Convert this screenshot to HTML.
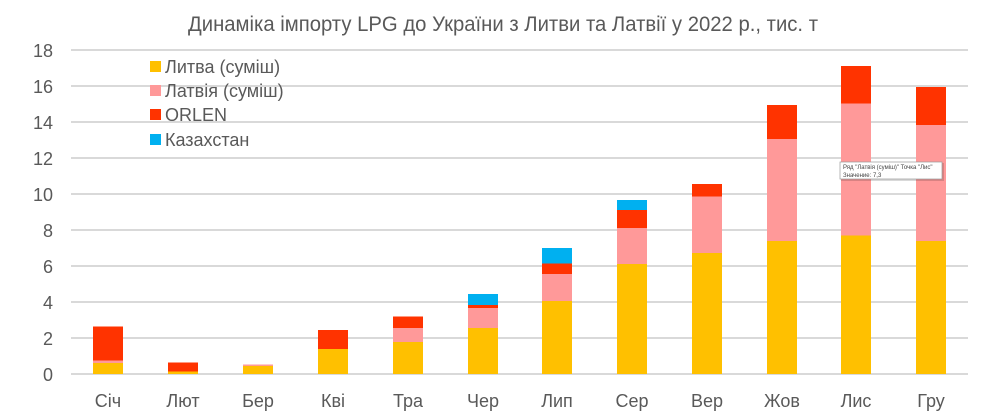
<!DOCTYPE html>
<html><head><meta charset="utf-8"><style>
html,body{margin:0;padding:0;background:#fff;}
svg{display:block;font-family:"Liberation Sans",sans-serif;}
</style></head><body>
<svg width="1000" height="420" viewBox="0 0 1000 420" xmlns="http://www.w3.org/2000/svg">
<rect width="1000" height="420" fill="#fff"/>
<text x="188" y="31" font-size="21" fill="#595959" textLength="630" lengthAdjust="spacingAndGlyphs">Динаміка імпорту LPG до України з Литви та Латвії у 2022 р., тис. т</text>
<g stroke="#d9d9d9" stroke-width="2">
<line x1="71" x2="968" y1="50" y2="50"/><line x1="71" x2="968" y1="86" y2="86"/>
<line x1="71" x2="968" y1="122" y2="122"/><line x1="71" x2="968" y1="158" y2="158"/>
<line x1="71" x2="968" y1="194" y2="194"/><line x1="71" x2="968" y1="230" y2="230"/>
<line x1="71" x2="968" y1="266" y2="266"/><line x1="71" x2="968" y1="302" y2="302"/>
<line x1="71" x2="968" y1="338" y2="338"/><line x1="71" x2="968" y1="374" y2="374"/>
</g>
<g font-size="18" fill="#595959" text-anchor="end">
<text x="53" y="57">18</text><text x="53" y="93">16</text><text x="53" y="129">14</text>
<text x="53" y="165">12</text><text x="53" y="201">10</text><text x="53" y="237">8</text>
<text x="53" y="273">6</text><text x="53" y="309">4</text><text x="53" y="345">2</text>
<text x="53" y="381">0</text>
</g>
<g>
<!-- Січ -->
<rect x="93" y="363" width="30" height="11" fill="#FFC000"/><rect x="93" y="360.5" width="30" height="2.5" fill="#FF9999"/><rect x="93" y="326.5" width="30" height="34" fill="#FF3300"/>
<!-- Лют -->
<rect x="168" y="371.5" width="30" height="2.5" fill="#FFC000"/><rect x="168" y="362.5" width="30" height="9" fill="#FF3300"/>
<!-- Бер -->
<rect x="243" y="366" width="30" height="8" fill="#FFC000"/><rect x="243" y="364.5" width="30" height="1.5" fill="#FF9999"/>
<!-- Кві -->
<rect x="318" y="349" width="30" height="25" fill="#FFC000"/><rect x="318" y="330" width="30" height="19" fill="#FF3300"/>
<!-- Тра -->
<rect x="393" y="342" width="30" height="32" fill="#FFC000"/><rect x="393" y="328" width="30" height="14" fill="#FF9999"/><rect x="393" y="316.5" width="30" height="11.5" fill="#FF3300"/>
<!-- Чер -->
<rect x="468" y="328" width="30" height="46" fill="#FFC000"/><rect x="468" y="308" width="30" height="20" fill="#FF9999"/><rect x="468" y="305" width="30" height="3" fill="#FF3300"/><rect x="468" y="294" width="30" height="11" fill="#00B0F0"/>
<!-- Лип -->
<rect x="542" y="301" width="30" height="73" fill="#FFC000"/><rect x="542" y="274" width="30" height="27" fill="#FF9999"/><rect x="542" y="263.5" width="30" height="10.5" fill="#FF3300"/><rect x="542" y="248" width="30" height="15.5" fill="#00B0F0"/>
<!-- Сер -->
<rect x="617" y="264" width="30" height="110" fill="#FFC000"/><rect x="617" y="228" width="30" height="36" fill="#FF9999"/><rect x="617" y="210" width="30" height="18" fill="#FF3300"/><rect x="617" y="200" width="30" height="10" fill="#00B0F0"/>
<!-- Вер -->
<rect x="692" y="253" width="30" height="121" fill="#FFC000"/><rect x="692" y="196.5" width="30" height="56.5" fill="#FF9999"/><rect x="692" y="184" width="30" height="12.5" fill="#FF3300"/>
<!-- Жов -->
<rect x="767" y="241" width="30" height="133" fill="#FFC000"/><rect x="767" y="139" width="30" height="102" fill="#FF9999"/><rect x="767" y="105" width="30" height="34" fill="#FF3300"/>
<!-- Лис -->
<rect x="841" y="235.5" width="30" height="138.5" fill="#FFC000"/><rect x="841" y="103.5" width="30" height="132" fill="#FF9999"/><rect x="841" y="66" width="30" height="37.5" fill="#FF3300"/>
<!-- Гру -->
<rect x="916" y="241" width="30" height="133" fill="#FFC000"/><rect x="916" y="125" width="30" height="116" fill="#FF9999"/><rect x="916" y="87" width="30" height="38" fill="#FF3300"/>
</g>
<g font-size="18" fill="#595959" text-anchor="middle">
<text x="108" y="407">Січ</text><text x="183" y="407">Лют</text><text x="258" y="407">Бер</text>
<text x="333" y="407">Кві</text><text x="408" y="407">Тра</text><text x="483" y="407">Чер</text>
<text x="557" y="407">Лип</text><text x="632" y="407">Сер</text><text x="707" y="407">Вер</text>
<text x="782" y="407">Жов</text><text x="856" y="407">Лис</text><text x="931" y="407">Гру</text>
</g>
<g font-size="18" fill="#595959">
<rect x="150" y="61" width="11" height="11" fill="#FFC000"/><text x="165" y="73">Литва (суміш)</text>
<rect x="150" y="85" width="11" height="11" fill="#FF9999"/><text x="165" y="97">Латвія (суміш)</text>
<rect x="150" y="109" width="11" height="11" fill="#FF3300"/><text x="165" y="121">ORLEN</text>
<rect x="150" y="134" width="11" height="11" fill="#00B0F0"/><text x="165" y="146">Казахстан</text>
</g>
<rect x="841" y="163" width="103" height="18" fill="#000" opacity="0.15"/>
<rect x="840" y="162" width="102" height="17" fill="#fff" stroke="#999" stroke-width="0.7"/>
<g font-size="6" fill="#444">
<text x="843" y="169">Ряд "Латвія (суміш)" Точка "Лис"</text>
<text x="843" y="177">Значение: 7,3</text>
</g>
</svg>
</body></html>
